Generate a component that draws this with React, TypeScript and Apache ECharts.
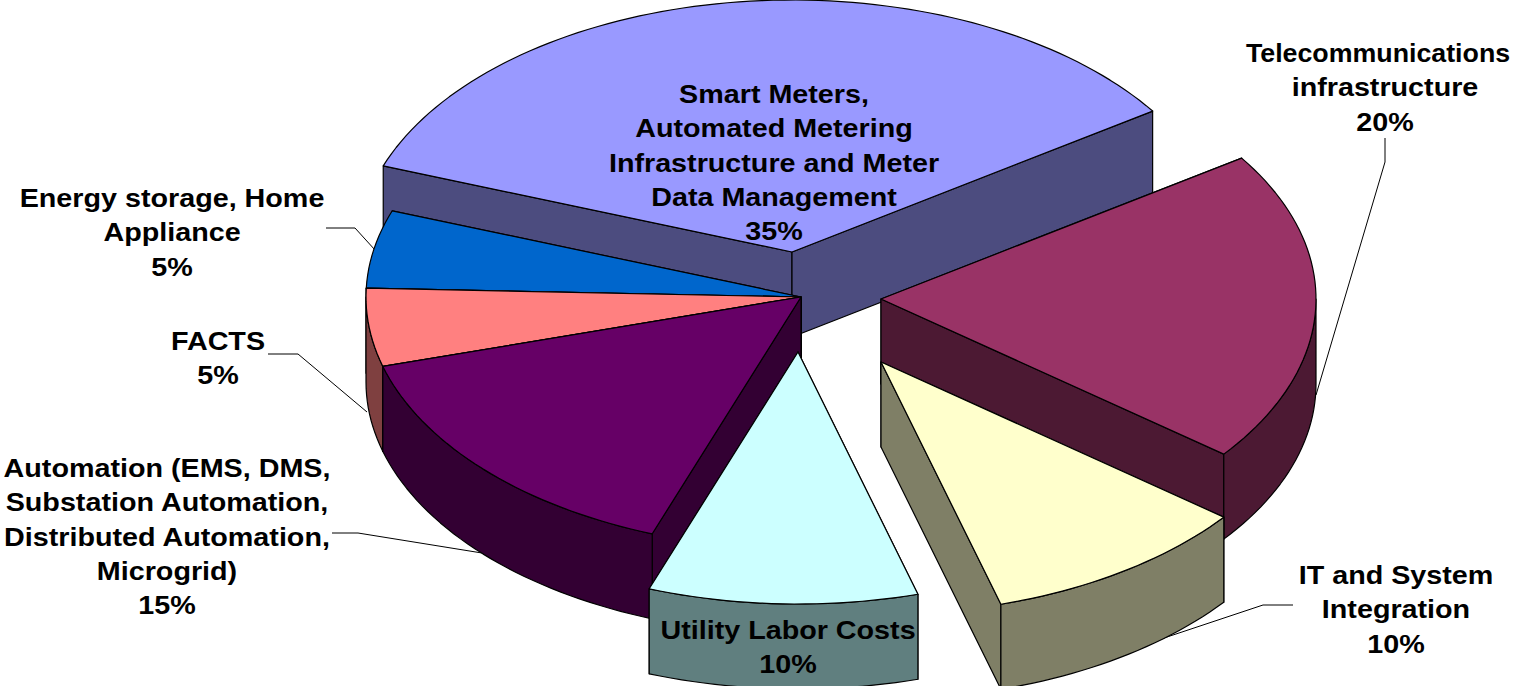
import React, { useEffect, useRef } from "react";
import * as echarts from "echarts";

// ---- data ----
const categories = [
  "Smart Meters, Automated Metering Infrastructure and Meter Data Management",
  "Telecommunications infrastructure",
  "IT and System Integration",
  "Utility Labor Costs",
  "Automation (EMS, DMS, Substation Automation, Distributed Automation, Microgrid)",
  "FACTS",
  "Energy storage, Home Appliance",
];
const shares = [35, 20, 10, 10, 15, 5, 5];
const labelLines = [
  ["Smart Meters,", "Automated Metering", "Infrastructure and Meter", "Data Management", "35%"],
  ["Telecommunications", "infrastructure", "20%"],
  ["IT and System", "Integration", "10%"],
  ["Utility Labor Costs", "10%"],
  ["Automation (EMS, DMS,", "Substation Automation,", "Distributed Automation,", "Microgrid)", "15%"],
  ["FACTS", "5%"],
  ["Energy storage, Home", "Appliance", "5%"],
];

// ---- styles and layout ----
const topColors = ["#9999FF", "#993366", "#FFFFCC", "#CCFFFF", "#660066", "#FF8080", "#0066CC"];
const sideColors = ["#4C4C7F", "#4C1933", "#7F7F66", "#607F7F", "#330033", "#7F4040", "#003366"];
const apexes = [[792, 252], [881, 299], [881, 362], [798, 352], [801, 297], [801, 297], [801, 297]];
const labelAnchors = [[774, 94], [1385, 53], [1396, 575], [788, 630], [167, 468], [218, 341], [172, 198]];
const leaderLines = [
  null,
  [[1385, 138], [1385, 162], [1316, 395]],
  [[1293, 605], [1263, 605], [1125, 651]],
  null,
  [[332, 533], [358, 533], [482, 553]],
  [[268, 354], [298, 354], [367, 412]],
  [[326, 228], [355, 228], [375, 250]],
];
const paintOrder = [0, 1, 2, 6, 5, 4, 3];
const START_DEG = -70;
const RX = 435;
const RY = 252;
const DEPTH = 85;
const LINE_H = 34.3;
const TEXT_STRETCH = 1.105;
const NARROW_LINE = "Telecommunications";
const NARROW_STRETCH = 1.03;
const FONT = 'bold 26px "Liberation Sans", Arial, sans-serif';

const total = shares.reduce((a, b) => a + b, 0);
const startAngles: number[] = [];
shares.reduce((acc, v, i) => {
  startAngles[i] = acc;
  return acc + (v / total) * 360;
}, START_DEG);

function pt(i: number, deg: number, dz: number): number[] {
  const r = (deg * Math.PI) / 180;
  return [apexes[i][0] + RX * Math.sin(r), apexes[i][1] - RY * Math.cos(r) + dz];
}

function sweepPoints(i: number, from: number, to: number, dz: number): number[][] {
  const steps = Math.max(2, Math.ceil((to - from) / 1.5));
  const out: number[][] = [];
  for (let k = 0; k <= steps; k++) out.push(pt(i, from + ((to - from) * k) / steps, dz));
  return out;
}

function renderSlice(params: any, api: any) {
  const i = paintOrder[params.dataIndex];
  const sweep = (api.value(0) / total) * 360;
  const a0 = startAngles[i];
  const a1 = a0 + sweep;
  const c = apexes[i];
  const cLow = [c[0], c[1] + DEPTH];
  const line = { stroke: "#000", lineWidth: 1.2, lineJoin: "round" };
  const poly = (points: number[][], fill: string) => ({
    type: "polygon",
    shape: { points },
    style: { fill, ...line },
    silent: true,
  });
  const side = sideColors[i];
  // the cut face nearer the viewer is painted over the one further back
  const cuts = (a0 + a1) / 2 < 180 ? [a0, a1] : [a1, a0];
  const children: any[] = cuts.map((a) => poly([c, pt(i, a, 0), pt(i, a, DEPTH), cLow], side));
  // only the part of the rim on the near half of the ellipse can be seen
  const from = Math.max(a0, 90);
  const to = Math.min(a1, 270);
  if (to > from) {
    children.push(poly([...sweepPoints(i, from, to, 0), ...sweepPoints(i, from, to, DEPTH).reverse()], side));
  }
  children.push(poly([c, ...sweepPoints(i, a0, a1, 0)], topColors[i]));
  return { type: "group", children };
}

export default function App() {
  const ref = useRef<HTMLDivElement>(null);
  useEffect(() => {
    document.body.style.margin = "0";
    document.documentElement.style.overflow = "hidden";
    const chart = echarts.init(ref.current!, null, { renderer: "svg" });
    const leaders = leaderLines
      .filter((l) => l)
      .map((points) => ({
        type: "polyline",
        z: 0,
        silent: true,
        shape: { points },
        style: { stroke: "#000", lineWidth: 1, fill: "none" },
      }));
    const texts = labelLines.flatMap((lines, i) =>
      lines.map((text, k) => ({
        type: "text",
        z: 10,
        silent: true,
        x: labelAnchors[i][0] - (text === NARROW_LINE ? 7 : 0),
        y: labelAnchors[i][1] + k * LINE_H,
        scaleX: text === NARROW_LINE ? NARROW_STRETCH : TEXT_STRETCH,
        style: {
          text,
          x: 0,
          y: 0,
          align: "center",
          verticalAlign: "middle",
          font: FONT,
          fill: "#000",
        },
      }))
    );
    chart.setOption({
      animation: false,
      backgroundColor: "#fff",
      graphic: { elements: [...leaders, ...texts] },
      series: [
        {
          type: "custom",
          coordinateSystem: "none",
          z: 2,
          silent: true,
          renderItem: renderSlice,
          data: paintOrder.map((i) => ({ name: categories[i], value: [shares[i]] })),
        },
      ],
    });
    return () => chart.dispose();
  }, []);
  return <div ref={ref} style={{ width: 1531, height: 686, overflow: "hidden" }} />;
}
